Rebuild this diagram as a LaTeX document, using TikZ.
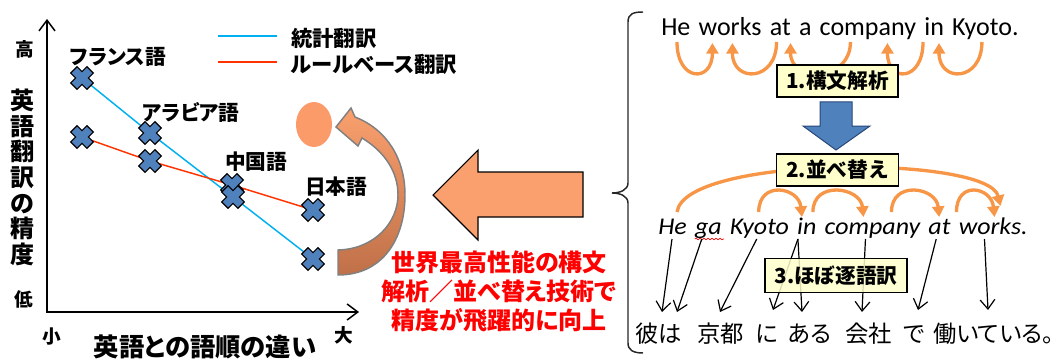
\documentclass[tikz,border=0pt]{standalone}
\usepackage{fontspec}
\setmainfont{Carlito}
\newfontfamily\jp{Noto Sans CJK JP}
\newfontfamily\jpp{Noto Sans CJK JP}[RawFeature=+palt]
\newfontfamily\en{Carlito}
\newfontfamily\enw{Carlito}[FakeStretch=1.08]
\usetikzlibrary{arrows.meta,calc,decorations.pathmorphing}
\definecolor{statblue}{RGB}{0,176,240}
\definecolor{rulered}{RGB}{255,51,0}
\definecolor{xblue}{RGB}{79,129,189}
\definecolor{bluedk}{RGB}{40,70,120}
\definecolor{arcor}{RGB}{247,150,70}
\definecolor{lightor}{RGB}{250,160,110}
\definecolor{darkor}{RGB}{192,112,72}
\definecolor{ellor}{RGB}{250,155,105}
\definecolor{boxy}{RGB}{255,255,204}
\tikzset{
  xm/.pic={\path[draw=black, fill=xblue, line width=0.9pt, rotate=45]
    (-4.5,-11.5) -- (4.5,-11.5) -- (4.5,-4.5) -- (11.5,-4.5) -- (11.5,4.5) -- (4.5,4.5)
    -- (4.5,11.5) -- (-4.5,11.5) -- (-4.5,4.5) -- (-11.5,4.5) -- (-11.5,-4.5) -- (-4.5,-4.5) -- cycle;},
  statline/.style={draw=statblue, line width=1.1pt},
  ruleline/.style={draw=rulered, line width=1.1pt},
  axisline/.style={draw=black, line width=1.1pt, {Straight Barb[length=8pt,width=12pt]}-{Straight Barb[length=8pt,width=12pt]}},
  jb/.style={inner sep=0pt, font=\jpp\bfseries\fontsize{#1}{#1}\selectfont},
  lang/.style={jb=15.5},
  legtxt/.style={jb=16, anchor=west},
  word/.style={inner sep=0pt, anchor=base west, font=\en\fontsize{19.5}{22}\selectfont},
  iword/.style={inner sep=0pt, anchor=base west, font=\enw\itshape\fontsize{18}{21}\selectfont},
  jword/.style={inner sep=0pt, anchor=base west, font=\jpp\fontsize{17.5}{20}\selectfont},
  bx/.style={draw=black, line width=1.1pt, fill=boxy, inner sep=0pt, minimum height=24pt,
    font=\jp\bfseries\fontsize{15.5}{18}\selectfont},
  arcst/.style={draw=arcor, line width=2.5pt, -{Triangle[length=8pt,width=9pt]}},
  blk/.style={draw=black, line width=0.9pt, -{Straight Barb[length=7pt,width=11pt]}},
}
\begin{document}
\begin{tikzpicture}[x=0.75pt,y=-0.75pt]
\useasboundingbox (0,0) rectangle (1064,360);
% ---------- chart ----------
\coordinate (ytop) at (47,19);
\coordinate (O) at (47,312);
\coordinate (xend) at (359,312);
\draw[axisline] (ytop) -- (O) -- (xend);
\node[jb=14] (hi) at (25,49) {高};
\node[jb=14] (lo) at (24,299) {低};
\node[jb=14] (sm) at (52,337) {小};
\node[jb=14] (lg) at (344,335) {大};
\node[inner sep=0pt, align=center, font=\jp\bfseries\fontsize{18}{19.2}\selectfont] (ylab) at (22,177.5)
  {英\\語\\翻\\訳\\の\\精\\度};
\node[jb=19] (xlab) at (205,347) {英語との語順の違い};
% legend
\coordinate (lb1) at (218,36); \coordinate (lb2) at (277,36);
\coordinate (lr1) at (218,62); \coordinate (lr2) at (277,62);
\draw[statline] (lb1) -- (lb2);
\draw[ruleline] (lr1) -- (lr2);
\node[legtxt] (lgs) at (291,38.5) {統計翻訳};
\node[legtxt] (lgr) at (291,64) {ルールベース翻訳};
% data
\coordinate (fs) at (82,78);  \coordinate (fr) at (82,137);
\coordinate (as) at (150,133); \coordinate (ar) at (150,161);
\coordinate (cs) at (233,197); \coordinate (cr) at (232,185);
\coordinate (js) at (313,259); \coordinate (jr) at (313,210);
\draw[statline] (fs) -- (as) -- (cs) -- (js);
\draw[ruleline] (fr) -- (ar) -- (cr) -- (jr);
\foreach \p in {fs,fr,as,ar,cr,cs,js,jr} {\pic at (\p) {xm};}
\node[lang] (lfr) at (118,56.5) {フランス語};
\node[lang] (lar) at (191,112) {アラビア語};
\node[lang] (lch) at (256,162) {中国語};
\node[lang] (lja) at (336,187) {日本語};
% ellipse and curved arrow
\fill[ellor] (314,124.5) ellipse [x radius=18, y radius=22.5];
\path[draw=gray, line width=1.1pt, top color=lightor, bottom color=darkor]
  (355,117) -- (351,108) -- (336,127) -- (358,146) -- (362,138)
  .. controls (385,152) and (398,172) .. (398,195)
  .. controls (398,222) and (375,249) .. (338,250)
  -- (338,275)
  .. controls (382,275) and (405,240) .. (405,195)
  .. controls (405,160) and (388,130) .. (355,117) -- cycle;
% big arrow
\path[draw=black, line width=0.8pt, fill=lightor]
  (433,195) -- (478,150) -- (478,172) -- (583,172) -- (583,217) -- (478,217) -- (478,240) -- cycle;
\node[align=center, inner sep=0pt, text=red, font=\jpp\bfseries\fontsize{18}{21.5}\selectfont] (rt) at (499,291.5)
  {世界最高性能の構文\\解析／並べ替え技術で\\精度が飛躍的に向上};
% brace
\draw[line width=1.1pt, black!85]
  (643,12) .. controls (633,12) and (628,14) .. (628,22) -- (628,183)
  .. controls (628,190) and (620,193) .. (612,193)
  .. controls (620,193) and (628,196) .. (628,203) -- (628,343)
  .. controls (628,350) and (633,353) .. (643,353);
% ---------- right: sentence 1 ----------
\node[word] (e1) at (661,36) {He};
\node[word] (e2) at ([xshift=5.8pt]e1.base east) {works};
\node[word] (e3) at ([xshift=5.8pt]e2.base east) {at};
\node[word] (e4) at ([xshift=5.8pt]e3.base east) {a};
\node[word] (e5) at ([xshift=5.8pt]e4.base east) {company};
\node[word] (e6) at ([xshift=5.8pt]e5.base east) {in};
\node[word] (e7) at ([xshift=5.8pt]e6.base east) {Kyoto.};
\draw[arcst] ($(e1.base west)+(16,6)$) .. controls +(0,40) and +(0,40) .. ($(e2.base west)+(14,7)$);
\draw[arcst] ($(e3.base west)+(7,6)$) .. controls +(0,40) and +(0,40) .. ($(e2.base west)+(34,7)$);
\draw[arcst] ($(e5.base west)+(31,6)$) .. controls +(0,40) and +(0,40) .. ($(e3.base west)+(21,7)$);
\draw[arcst] ($(e6.base west)+(-1,6)$) .. controls +(0,40) and +(0,40) .. ($(e5.base west)+(68,7)$);
\draw[arcst] ($(e7.base west)+(30,6)$) .. controls +(0,40) and +(0,40) .. ($(e6.base west)+(15,7)$);
\node[bx, minimum width=90.75pt] (b1) at (837.5,81) {1.構文解析};
\path[draw=bluedk, line width=0.75pt, fill=xblue]
  (820,102) -- (852,102) -- (852,126) -- (870,126) -- (836,150) -- (803,126) -- (820,126) -- cycle;
% ---------- sentence 2 ----------
\node[iword] (i1) at (658,234) {He};
\node[iword] (i2) at ([xshift=5.8pt]i1.base east) {ga};
\node[iword] (i3) at ([xshift=5.8pt]i2.base east) {Kyoto};
\node[iword] (i4) at ([xshift=5.8pt]i3.base east) {in};
\node[iword] (i5) at ([xshift=5.8pt]i4.base east) {company};
\node[iword] (i6) at ([xshift=5.8pt]i5.base east) {at};
\node[iword] (i7) at ([xshift=5.8pt]i6.base east) {works.};
\draw[red, line width=0.5pt, decorate, decoration={snake, amplitude=0.6pt, segment length=3pt}]
  ($(i2.base west)+(0,5)$) -- ($(i2.base east)+(2,5)$);
\draw[arcst] ($(i1.base west)+(19,-22)$) .. controls +(8,-57) and +(-12,-51) .. ($(i7.base west)+(42,-28)$);
\draw[arcst] ($(i3.base west)+(29,-22)$) .. controls +(0,-32) and +(-3,-30) .. ($(i4.base west)+(5,-17)$);
\draw[arcst] ($(i4.base west)+(16,-22)$) .. controls +(0,-32) and +(-3,-30) .. ($(i5.base west)+(39,-17)$);
\draw[arcst] ($(i5.base west)+(67,-22)$) .. controls +(0,-32) and +(-3,-30) .. ($(i6.base west)+(11,-17)$);
\draw[arcst] ($(i7.base west)+(-2,-22)$) .. controls +(0,-32) and +(-3,-30) .. ($(i7.base west)+(36,-17)$);
\node[bx, minimum width=91.2pt] (b2) at (837.5,170) {2.並べ替え};
% ---------- Japanese ----------
\node[jword] (j1) at (635,342.5) {彼は};
\node[jword] (j2) at (697,342.5) {京都};
\node[jword] (j3) at (755,342.5) {に};
\node[jword] (j4) at (788,342.5) {ある};
\node[jword] (j5) at (845,342.5) {会社};
\node[jword] (j6) at (903,342.5) {で};
\node[jword] (j7) at (933,342.5) {働いている。};
\draw[blk] ($(i1.base west)+(14,5)$) -- ($(j1.base west)+(27,-30.5)$);
\draw[blk] ($(i2.base west)+(7,5)$) -- ($(j1.base west)+(42,-30.5)$);
\draw[blk] ($(i3.base west)+(27,5)$) -- ($(j2.base west)+(23,-30.5)$);
\draw[blk] ($(i4.base west)+(1,5)$) -- ($(j3.base west)+(18,-32.5)$);
\draw[blk] ($(i4.base west)+(1,5)$) -- ($(j4.base west)+(14,-30.5)$);
\draw[blk] ($(i5.base west)+(41,5)$) -- ($(j5.base west)+(17,-30.5)$);
\draw[blk] ($(i6.base west)+(8,5)$) -- ($(j6.base west)+(15,-32.5)$);
\draw[blk] ($(i7.base west)+(26,5)$) -- ($(j7.base west)+(55,-32.5)$);
\node[bx, minimum width=106.3pt, minimum height=25.8pt, fill opacity=0.85, text opacity=1] (b3) at (836,275.5) {3.ほぼ逐語訳};
\end{tikzpicture}
\end{document}
